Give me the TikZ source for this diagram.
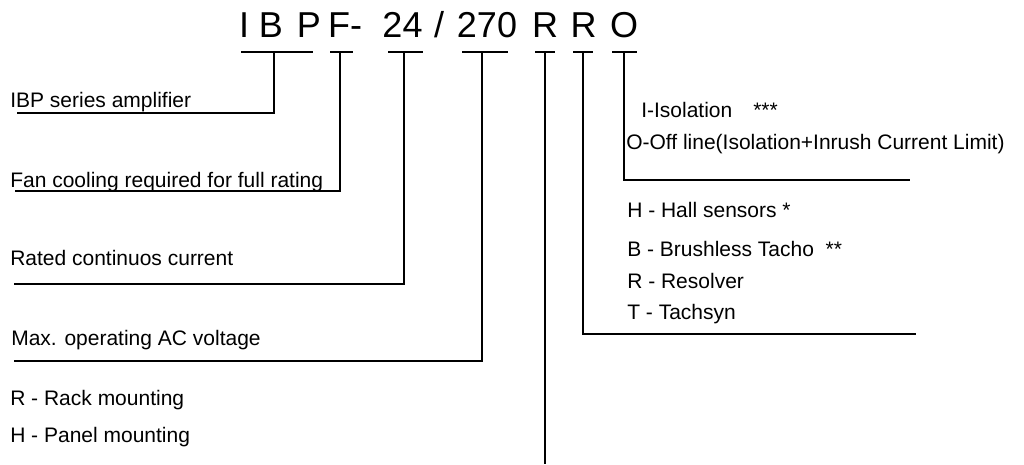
\documentclass[tikz,border=0pt]{standalone}
\usepackage{fontspec}
\setmainfont{Liberation Sans}
\begin{document}
\begin{tikzpicture}[x=0.75pt,y=-0.75pt,
  lbl/.style={anchor=base west,inner sep=0pt,font=\fontsize{15.75pt}{18pt}\selectfont},
  ttl/.style={anchor=base,inner sep=0pt,font=\fontsize{27pt}{32pt}\selectfont},
  ln/.style={line width=1.2pt,black}]
\useasboundingbox (0,0) rectangle (1024,464);
% title pieces
\node[ttl] (tI) at (244,37) {I};
\node[ttl] (tB) at (271,37) {B};
\node[ttl] (tP) at (309,37) {P};
\node[ttl] (tF) at (345,37) {F-};
\node[ttl] (t24) at (402.5,37) {24};
\node[ttl] (tsl) at (439,37) {/};
\node[ttl] (t270) at (487,37) {270};
\node[ttl] (tR1) at (545,37) {R};
\node[ttl] (tR2) at (583.5,37) {R};
\node[ttl] (tO) at (624,37) {O};
% labels left
\node[lbl] (lIBP) at (10,107) {IBP series amplifier};
\node[lbl] (lFan) at (10,187) {Fan cooling required for full rating};
\node[lbl] (lRat) at (10,265) {Rated continuos current};
\node[lbl] (lMax) at (11,345) {Max. operating AC voltage};
\node[lbl] (lRack) at (10,405) {R - Rack mounting};
\node[lbl] (lPan) at (10,442) {H - Panel mounting};
% labels right
\node[lbl] (lIso) at (641,117) {I-Isolation\quad***};
\node[lbl] (lOff) at (626,149) {O-Off line(Isolation+Inrush Current Limit)};
\node[lbl] (lHall) at (627,217) {H - Hall sensors *};
\node[lbl] (lBT) at (627,256) {B - Brushless Tacho\ \ **};
\node[lbl] (lRes) at (627,288) {R - Resolver};
\node[lbl] (lTach) at (627,319) {T - Tachsyn};
% bracket coordinates
\coordinate (aL) at (241,52); \coordinate (aR) at (313,52); \coordinate (aS) at (274,52); \coordinate (aE) at (17,113);
\coordinate (bL) at (330,52); \coordinate (bR) at (353,52); \coordinate (bS) at (340,52); \coordinate (bE) at (15,191);
\coordinate (cL) at (388,52); \coordinate (cR) at (423,52); \coordinate (cS) at (404,52); \coordinate (cE) at (14,284);
\coordinate (dL) at (462,52); \coordinate (dR) at (508,52); \coordinate (dS) at (482,52); \coordinate (dE) at (14,361);
\coordinate (eL) at (535,52); \coordinate (eR) at (555,52); \coordinate (eS) at (545,52); \coordinate (eE) at (545,464);
\coordinate (fL) at (573,52); \coordinate (fR) at (593,52); \coordinate (fS) at (583,52); \coordinate (fE) at (916,334);
\coordinate (gL) at (612,52); \coordinate (gR) at (637,52); \coordinate (gS) at (624,52); \coordinate (gE) at (910,180);
% brackets and leaders
\draw[ln] (aL) -- (aR); \draw[ln] (aS) |- (aE);
\draw[ln] (bL) -- (bR); \draw[ln] (bS) |- (bE);
\draw[ln] (cL) -- (cR); \draw[ln] (cS) |- (cE);
\draw[ln] (dL) -- (dR); \draw[ln] (dS) |- (dE);
\draw[ln] (eL) -- (eR); \draw[ln] (eS) -- (eE);
\draw[ln] (fL) -- (fR); \draw[ln] (fS) |- (fE);
\draw[ln] (gL) -- (gR); \draw[ln] (gS) |- (gE);
\end{tikzpicture}
\end{document}
